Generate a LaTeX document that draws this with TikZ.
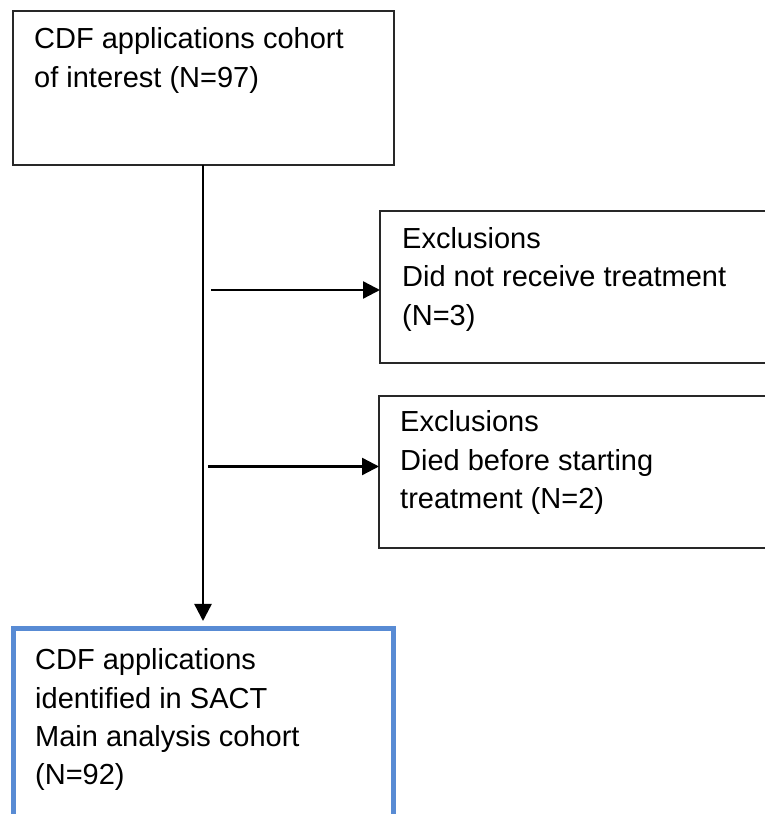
\documentclass[tikz,border=0pt]{standalone}
\usepackage{fontspec}
\setmainfont{Liberation Sans}
\usetikzlibrary{arrows.meta}
\definecolor{boxblue}{RGB}{88,139,212}
\definecolor{boxgray}{RGB}{40,40,40}
\begin{document}
\begin{tikzpicture}[x=1pt,y=1pt,
  graybox/.style={draw=boxgray,line width=1.3pt,inner sep=0pt,outer sep=0pt,anchor=north west},
  bluebox/.style={draw=boxblue,line width=5pt,inner sep=0pt,outer sep=0pt,anchor=north west},
  txt/.style={anchor=base west,inner sep=0pt,align=left,font=\fontsize{29}{38.5}\selectfont},
  conn/.style={black,line width=2.4pt,-{Triangle[length=17pt,width=17pt]}}]
\useasboundingbox (0,0) rectangle (764,814);
\fill[white] (0,0) rectangle (764,814);
% boxes
\node[graybox,minimum width=381pt,minimum height=154pt] (top) at (13,803) {};
\node[graybox,minimum width=420pt,minimum height=152pt] (ex1) at (380,603) {};
\node[graybox,minimum width=420pt,minimum height=152pt] (ex2) at (379,418) {};
\node[bluebox,minimum width=380pt,minimum height=250pt] (main) at (13,185) {};
% texts
\node[txt] (ttop) at (34,726.5) {CDF applications cohort\\of interest (N=97)};
\node[txt] (tex1) at (402,488.5) {Exclusions\\Did not receive treatment\\(N=3)};
\node[txt] (tex2) at (400,305) {Exclusions\\Died before starting\\treatment (N=2)};
\node[txt] (tmain) at (35,29) {CDF applications\\identified in SACT\\Main analysis cohort\\(N=92)};
% connectors
\coordinate (vx) at (203,0);
\coordinate (a1) at (211,524);
\coordinate (a2) at (208,347.5);
\draw[conn] (top.south -| vx) -- ([yshift=8pt]main.north -| vx);
\draw[conn] (a1) -- (ex1.west |- a1);
\draw[conn] (a2) -- (ex2.west |- a2);
\end{tikzpicture}
\end{document}
